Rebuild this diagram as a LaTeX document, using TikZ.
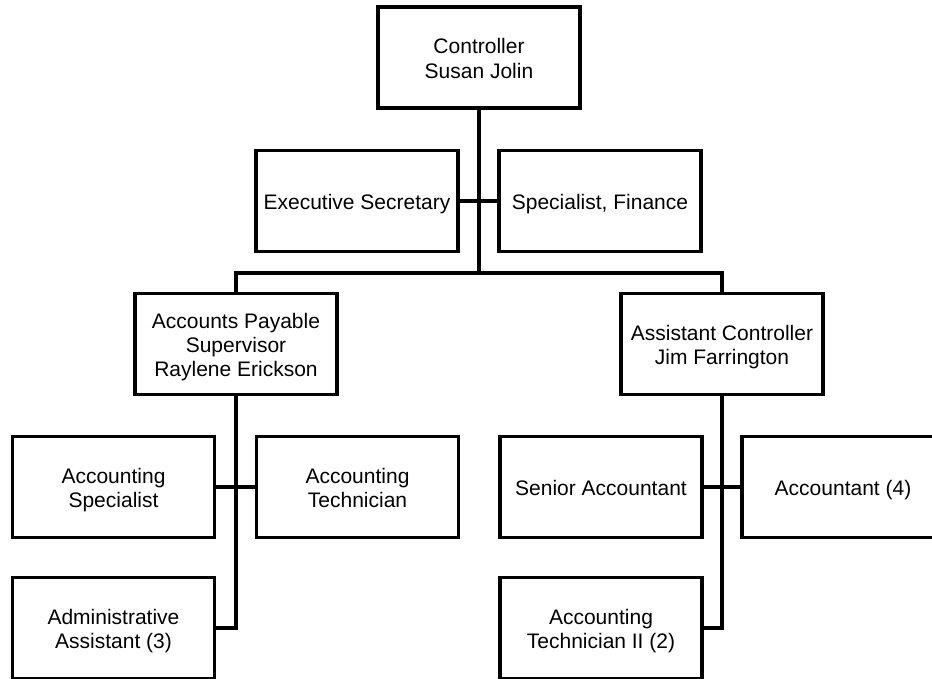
\documentclass[tikz,border=0pt]{standalone}
\usepackage{fontspec}
\setmainfont{Liberation Sans}
\lineskiplimit=-100pt
\newcommand\boxstrut{\rule[-6pt]{0pt}{29pt}}
\newcommand\boxtext[1]{\boxstrut#1\boxstrut}

\begin{document}
\begin{tikzpicture}[x=1pt, y=-1pt, line width=4pt,
    every node/.style={rectangle, draw, line width=3.6pt, fill=white, align=center,
        minimum width=202pt, minimum height=101pt, inner sep=2pt,
        font=\fontsize{21}{24.4}\selectfont}]
            \useasboundingbox (0,0) rectangle (932,678);
            \clip (0,0) rectangle (932,678);
            \fill[white] (0,0) rectangle (932,678);

            % Top level
            \node (ctrl) at (479,57.5) {\boxtext{Controller\\Susan Jolin}};
            \node (execsec) at (357,201) {\boxtext{Executive Secretary}};
            \node (specfin) at (600,201) {\boxtext{Specialist, Finance}};

            % Second level
            \node (apsup) at (236,344) {\boxtext{Accounts Payable\\Supervisor\\Raylene Erickson}};
            \node (asstctrl) at (722,344) {\boxtext{Assistant Controller\\Jim Farrington}};

            % Accounts payable staff
            \node (accspec) at (113.5,487) {\boxtext{Accounting\\Specialist}};
            \node (acctech) at (357.5,487) {\boxtext{Accounting\\Technician}};
            \node (admasst) at (113.5,628) {\boxtext{Administrative\\Assistant (3)}};

            % Assistant controller staff
            \node (senacc) at (601,487) {\boxtext{Senior Accountant}};
            \node (acc) at (843,487) {\boxtext{Accountant (4)}};
            \node (acctech2) at (601,628) {\boxtext{Accounting\\Technician II (2)}};

            % Connectors
            \coordinate (bus) at (479,273);
            \draw (ctrl) -- (bus);
            \draw (execsec) -- (specfin);
            \draw (apsup.north) |- (bus) -| (asstctrl.north);
            \draw (apsup) |- (admasst);
            \draw (accspec) -- (acctech);
            \draw (asstctrl) |- (acctech2);
            \draw (senacc) -- (acc);
\end{tikzpicture}
\end{document}
